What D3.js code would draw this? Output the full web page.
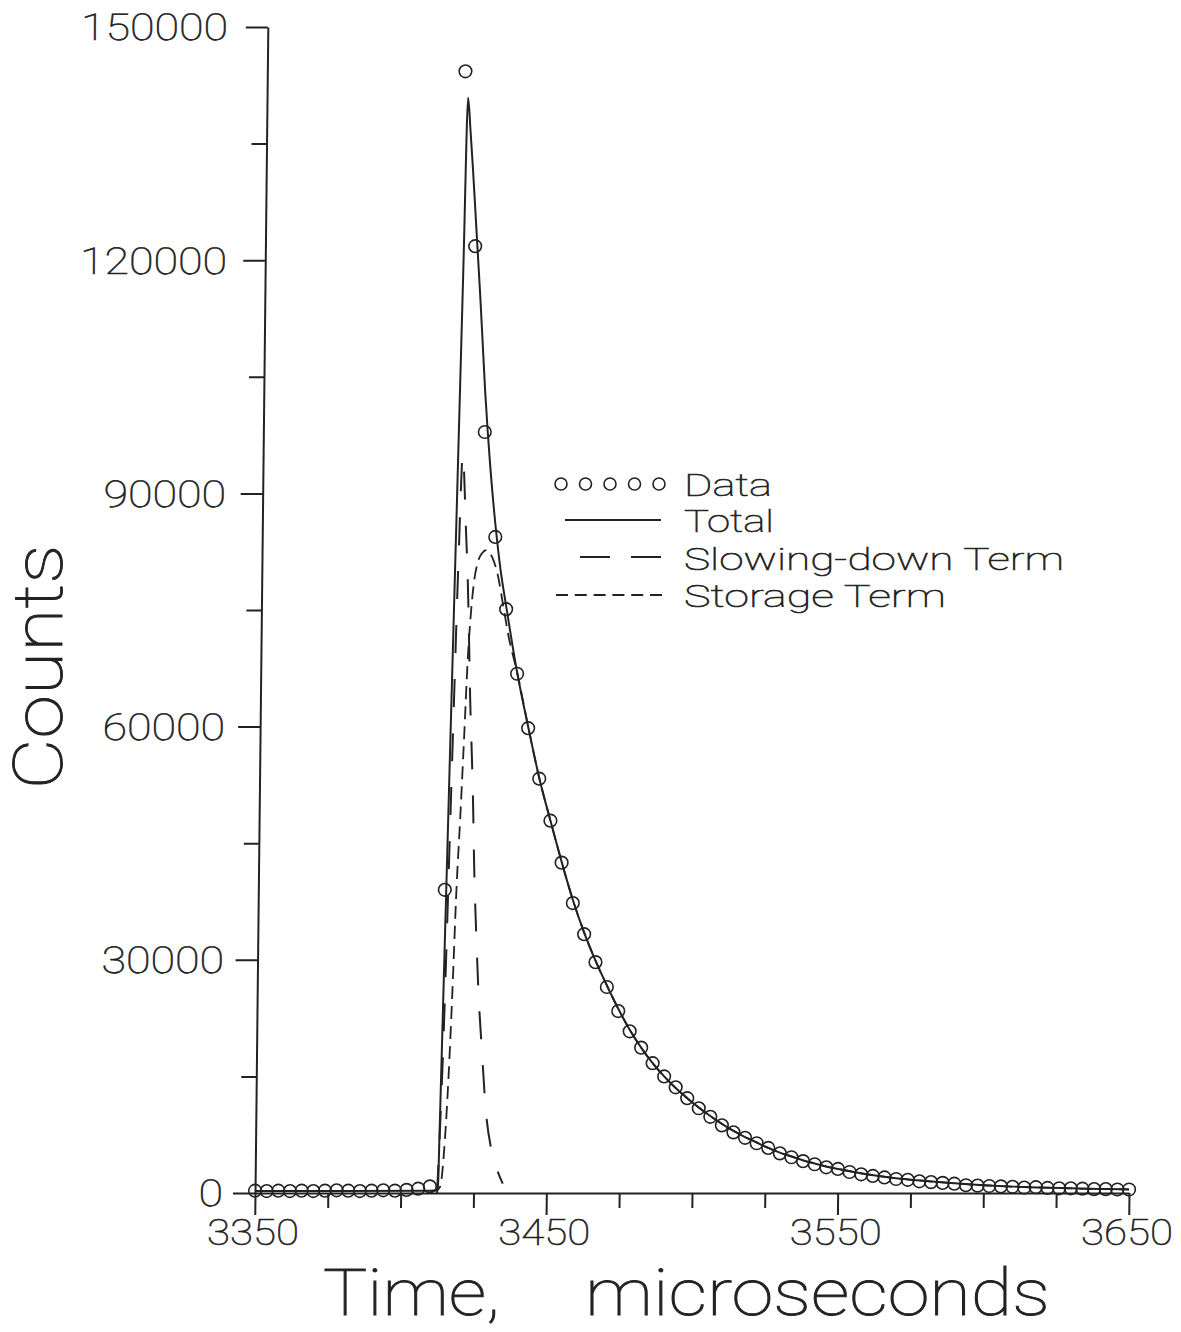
<!DOCTYPE html>
<html>
<head>
<meta charset="utf-8">
<script src="https://cdn.jsdelivr.net/npm/d3@7"></script>
<style>
  html, body { margin: 0; padding: 0; background: #fff; }
  text { font-family: Roboto, Lato, "Open Sans", "DejaVu Sans", sans-serif; font-weight: 100; fill: #222; stroke: #222; stroke-width: 0.6; }
  text.big { stroke-width: 0.9; }
</style>
</head>
<body>
<svg id="chart"></svg>
<script>
// measured counts, one bin every 4 microseconds
const times = [3350, 3354, 3358, 3362, 3366, 3370, 3374, 3378, 3382, 3386, 3390, 3394, 3398, 3402, 3406, 3410,
  3414, 3418, 3422, 3426, 3430, 3434, 3438, 3442, 3446, 3450, 3454, 3458, 3462, 3466, 3470, 3474, 3478, 3482,
  3486, 3490, 3494, 3498, 3502, 3506, 3510, 3514, 3518, 3522, 3526, 3530, 3534, 3538, 3542, 3546, 3550, 3554,
  3558, 3562, 3566, 3570, 3574, 3578, 3582, 3586, 3590, 3594, 3598, 3602, 3606, 3610, 3614, 3618, 3622, 3626,
  3630, 3634, 3638, 3642, 3646, 3650];
const counts = [300, 250, 300, 250, 300, 250, 300, 350, 300, 250, 300, 350, 300, 400, 550, 850,
  39000, 144300, 121800, 97900, 84400, 75100, 66800, 59800, 53300, 47900, 42500, 37300, 33300, 29700, 26500, 23400, 20800, 18700,
  16700, 15000, 13600, 12200, 10900, 9800, 8700, 7800, 7100, 6400, 5800, 5100, 4600, 4100, 3700, 3300, 3100, 2700,
  2400, 2200, 2000, 1800, 1700, 1500, 1400, 1300, 1200, 1000, 950, 900, 850, 800, 700, 750, 650, 600,
  600, 550, 500, 500, 450, 450];

// fitted total
const totalTimes = [3350, 3380, 3410, 3412.8, 3413, 3414, 3415, 3416, 3417, 3418, 3419, 3420, 3421, 3422, 3423,
  3424, 3425, 3426, 3427, 3428, 3430, 3432, 3434, 3438, 3442, 3446, 3450, 3454, 3458, 3462, 3466, 3470, 3474,
  3478, 3482, 3486, 3490, 3494, 3498, 3502, 3506, 3510, 3514, 3518, 3522, 3526, 3530, 3534, 3538, 3542, 3546,
  3550, 3560, 3570, 3580, 3590, 3600, 3610, 3620, 3630, 3640, 3650];
const totalValues = [250, 250, 300, 400, 4900, 27600, 50300, 72900, 95600, 118300, 140900, 136500, 131500, 126000, 120500,
  115000, 109000, 103000, 98000, 93500, 86000, 80000, 75500, 67000, 60000, 53400, 47900, 42600, 37700, 33500, 29900, 26700, 23700,
  21000, 18700, 16700, 15000, 13500, 12200, 11000, 9900, 8900, 8000, 7200, 6500, 5800, 5200, 4700, 4200, 3800, 3400,
  3100, 2400, 1900, 1550, 1250, 1000, 820, 700, 600, 520, 460];

// slowing-down term
const slowTimes = [3412.5, 3414, 3416, 3417.5, 3418.5, 3419.9, 3420.8, 3421.4, 3422, 3422.8, 3423.4, 3424, 3425,
  3426, 3427.4, 3429, 3431, 3433, 3435];
const slowValues = [0, 18000, 55000, 82000, 95000, 85400, 78000, 71000, 63500, 56100, 49900, 42000, 33000,
  25500, 18000, 10300, 5500, 3000, 1200];

// storage term (joins the total after 3438)
const storeTimes = [3410, 3412, 3413.5, 3415, 3416, 3417, 3418, 3419, 3420, 3421, 3422, 3423, 3424, 3425.5,
  3427, 3429, 3431, 3433, 3435];
const storeValues = [250, 300, 800, 7000, 15000, 26000, 39000, 48000, 58000, 68500, 75000, 79000, 81000, 82300,
  82700, 81800, 79500, 75500, 71500];

const xMajor = [3350, 3450, 3550, 3650];
const xMinor = [3375, 3400, 3425, 3475, 3500, 3525, 3575, 3600, 3625];
const yMajor = [0, 30000, 60000, 90000, 120000, 150000];
const yMinor = [15000, 45000, 75000, 105000, 135000];

const legendLabels = ["Data", "Total", "Slowing-down Term", "Storage Term"];

const width = 1181, height = 1332;
const ink = "#222";
// the scanned plot leans a little: the y axis drifts right toward the top
const lean = 0.011, labelLean = 0.0043;

const x = d3.scaleLinear().domain([3350, 3650]).range([255, 1129]);
const y = d3.scaleLinear().domain([0, 150000]).range([1193, 27]);
const y0 = y(0);
const leanDeg = v => -Math.atan(v) * 180 / Math.PI;

const svg = d3.select("#chart").attr("width", width).attr("height", height);

const plot = svg.append("g")
  .attr("transform", `translate(${lean * y0},0) skewX(${leanDeg(lean)})`);

// axes
const xAxisG = plot.append("g").attr("transform", `translate(0,${y0})`);
xAxisG.call(d3.axisBottom(x).tickValues(xMajor).tickSize(22).tickSizeOuter(0).tickFormat(""));
xAxisG.append("g").call(d3.axisBottom(x).tickValues(xMinor).tickSize(15).tickFormat(""))
  .call(g => g.select(".domain").remove());

const yAxisG = plot.append("g").attr("transform", `translate(${x(3350)},0)`);
yAxisG.call(d3.axisLeft(y).tickValues(yMajor).tickSize(22).tickSizeOuter(0).tickFormat(""));
yAxisG.append("g").call(d3.axisLeft(y).tickValues(yMinor).tickSize(15).tickFormat(""))
  .call(g => g.select(".domain").remove());

plot.selectAll(".domain, .tick line").attr("stroke", ink).attr("stroke-width", 2);

// curves
const toPts = (ts, vs) => ts.map((t, i) => [t, vs[i]]);
const line = d3.line().x(d => x(d[0])).y(d => y(d[1])).curve(d3.curveMonotoneX);

const totalPts = toPts(totalTimes, totalValues);
const storePts = toPts(storeTimes, storeValues).concat(totalPts.filter(d => d[0] >= 3438));

plot.append("path").datum(totalPts).attr("d", line)
  .attr("fill", "none").attr("stroke", ink).attr("stroke-width", 2);
plot.append("path").datum(toPts(slowTimes, slowValues)).attr("d", line)
  .attr("fill", "none").attr("stroke", ink).attr("stroke-width", 2).attr("stroke-dasharray", "28,26");
plot.append("path").datum(storePts).attr("d", line)
  .attr("fill", "none").attr("stroke", ink).attr("stroke-width", 1.8).attr("stroke-dasharray", "13,7");

plot.selectAll("circle.data")
  .data(toPts(times, counts))
  .join("circle")
  .attr("class", "data")
  .attr("cx", d => x(d[0]))
  .attr("cy", d => y(d[1]))
  .attr("r", 6.3)
  .attr("fill", "none")
  .attr("stroke", ink)
  .attr("stroke-width", 1.6);

// tick labels
const yLab = svg.append("g")
  .attr("transform", `translate(${labelLean * y0},0) skewX(${leanDeg(labelLean)})`);
yLab.selectAll("text")
  .data(yMajor)
  .join("text")
  .attr("x", x(3350) - 32)
  .attr("y", d => y(d))
  .attr("dy", "0.36em")
  .attr("text-anchor", "end")
  .attr("font-size", 37)
  .attr("textLength", d => String(d).length * 24.5)
  .attr("lengthAdjust", "spacingAndGlyphs")
  .text(d => d);

svg.append("g").selectAll("text")
  .data(xMajor)
  .join("text")
  .attr("x", d => x(d) - 2)
  .attr("y", 1245)
  .attr("text-anchor", "middle")
  .attr("font-size", 36)
  .attr("textLength", 92)
  .attr("lengthAdjust", "spacingAndGlyphs")
  .text(d => d);

// axis titles
svg.append("text").attr("class", "big").attr("x", 323).attr("y", 1315).attr("font-size", 65)
  .attr("textLength", 177).attr("lengthAdjust", "spacingAndGlyphs").text("Time,");
svg.append("text").attr("class", "big").attr("x", 585).attr("y", 1315).attr("font-size", 65)
  .attr("textLength", 465).attr("lengthAdjust", "spacingAndGlyphs").text("microseconds");
svg.append("text").attr("class", "big")
  .attr("transform", "translate(62,667) rotate(-90)")
  .attr("text-anchor", "middle")
  .attr("font-size", 68)
  .attr("textLength", 245).attr("lengthAdjust", "spacingAndGlyphs")
  .text("Counts");

// legend
const legend = svg.append("g");
const rowY = [484, 520, 557, 595];
const textBase = [496, 532, 570, 607];
const textLen = [88, 90, 380, 262];

legend.selectAll("circle")
  .data([561, 585.5, 610, 634.5, 659])
  .join("circle")
  .attr("cx", d => d).attr("cy", rowY[0]).attr("r", 6)
  .attr("fill", "none").attr("stroke", ink).attr("stroke-width", 1.6);
legend.append("line").attr("x1", 565).attr("x2", 661).attr("y1", rowY[1]).attr("y2", rowY[1])
  .attr("stroke", ink).attr("stroke-width", 2);
legend.append("line").attr("x1", 580).attr("x2", 662).attr("y1", rowY[2]).attr("y2", rowY[2])
  .attr("stroke", ink).attr("stroke-width", 2).attr("stroke-dasharray", "30,21");
legend.append("line").attr("x1", 556).attr("x2", 662).attr("y1", rowY[3]).attr("y2", rowY[3])
  .attr("stroke", ink).attr("stroke-width", 1.8).attr("stroke-dasharray", "12,6.8");

legend.selectAll("text")
  .data(legendLabels)
  .join("text")
  .attr("x", 684)
  .attr("y", (d, i) => textBase[i])
  .attr("font-size", 32)
  .attr("textLength", (d, i) => textLen[i])
  .attr("lengthAdjust", "spacingAndGlyphs")
  .text(d => d);
</script>
</body>
</html>
